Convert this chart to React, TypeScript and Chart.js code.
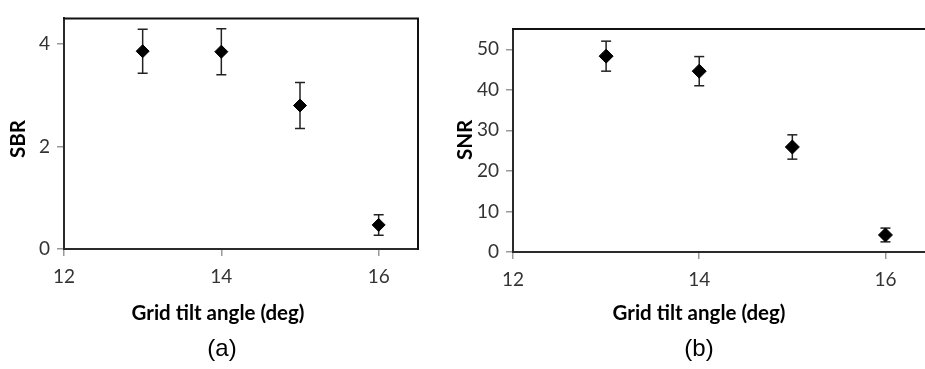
import React, { useEffect, useRef } from "react";
import { Chart, registerables } from "chart.js";

Chart.register(...registerables);

// ---- data ----
const angles = [13, 14, 15, 16];
const sbrValues = [3.86, 3.85, 2.8, 0.47];
const sbrErrors = [0.43, 0.45, 0.45, 0.2];
const snrValues = [48.3, 44.6, 25.9, 4.2];
const snrErrors = [3.7, 3.6, 3.0, 1.7];
const xTickValues = [12, 14, 16];
const sbrTickValues = [0, 2, 4];
const snrTickValues = [0, 10, 20, 30, 40, 50];

type TextItem = {
  text: string;
  x: number;
  y: number;
  font: string;
  color: string;
  rotate?: boolean;
};

function makeTextPlugin(items: TextItem[]) {
  return {
    id: "panelTexts",
    afterDraw(chart: any) {
      const ctx = chart.ctx;
      items.forEach((it) => {
        ctx.save();
        ctx.font = it.font;
        ctx.fillStyle = it.color;
        ctx.textAlign = "center";
        ctx.textBaseline = "middle";
        ctx.translate(it.x, it.y);
        if (it.rotate) ctx.rotate(-Math.PI / 2);
        ctx.fillText(it.text, 0, 0);
        ctx.restore();
      });
    },
  };
}

const framePlugin = {
  id: "topRightFrame",
  beforeDatasetsDraw(chart: any) {
    const { ctx, chartArea } = chart;
    const { left, right, top, bottom } = chartArea;
    ctx.save();
    ctx.strokeStyle = "#111";
    ctx.lineWidth = 2;
    ctx.beginPath();
    ctx.moveTo(left - 1, top);
    ctx.lineTo(right, top);
    ctx.lineTo(right, bottom + 1);
    ctx.stroke();
    ctx.restore();
  },
};

function errorBarPoints(xs: number[], ys: number[], es: number[]) {
  const pts: { x: number; y: number | null }[] = [];
  xs.forEach((x, i) => {
    pts.push({ x, y: ys[i] - es[i] });
    pts.push({ x, y: ys[i] + es[i] });
    pts.push({ x, y: null });
  });
  return pts;
}

type PanelProps = {
  left: number;
  width: number;
  height: number;
  values: number[];
  errors: number[];
  yMax: number;
  yTicks: number[];
  xMax: number;
  padTop: number;
  padRight: number;
  yAxisWidth: number;
  xAxisHeight: number;
  pointRadius: number;
  capRadius: number;
  texts: TextItem[];
};

const tickFont = { family: "Lato", size: 19 };

function Panel(p: PanelProps) {
  const ref = useRef<HTMLCanvasElement | null>(null);

  useEffect(() => {
    if (!ref.current) return;
    const gridOpts = {
      display: true,
      drawOnChartArea: false,
      drawTicks: true,
      tickLength: 7,
      color: "#999",
      lineWidth: 1.5,
    };
    const borderOpts = { display: true, color: "#2a2a2a", width: 2 };
    const chart = new Chart(ref.current, {
      type: "scatter",
      data: {
        datasets: [
          {
            label: "mean",
            data: angles.map((x, i) => ({ x, y: p.values[i] })),
            pointStyle: "rectRot",
            pointRadius: p.pointRadius,
            pointHoverRadius: p.pointRadius,
            backgroundColor: "#000",
            borderColor: "#000",
            borderWidth: 1,
            order: 0,
          } as any,
          {
            label: "error",
            data: errorBarPoints(angles, p.values, p.errors),
            showLine: true,
            spanGaps: false,
            borderColor: "#222",
            borderWidth: 1.5,
            pointStyle: "line",
            pointRadius: p.capRadius,
            pointHoverRadius: p.capRadius,
            pointBorderColor: "#222",
            pointBackgroundColor: "#222",
            pointBorderWidth: 1.5,
            order: 1,
          } as any,
        ],
      },
      options: {
        responsive: false,
        animation: false,
        devicePixelRatio: 1,
        events: [],
        layout: {
          padding: { left: 0, top: p.padTop, right: p.padRight, bottom: 0 },
        },
        plugins: {
          legend: { display: false },
          tooltip: { enabled: false },
          title: { display: false },
        },
        scales: {
          x: {
            type: "linear",
            min: 12,
            max: p.xMax,
            afterFit: (s: any) => {
              s.height = p.xAxisHeight;
            },
            afterBuildTicks: (s: any) => {
              s.ticks = xTickValues.map((v) => ({ value: v }));
            },
            grid: gridOpts,
            border: borderOpts,
            ticks: { font: tickFont, color: "#333", padding: 9, maxRotation: 0 },
          },
          y: {
            type: "linear",
            min: 0,
            max: p.yMax,
            afterFit: (s: any) => {
              s.width = p.yAxisWidth;
            },
            afterBuildTicks: (s: any) => {
              s.ticks = p.yTicks.map((v) => ({ value: v }));
            },
            grid: gridOpts,
            border: borderOpts,
            ticks: { font: tickFont, color: "#333", padding: 7 },
          },
        },
      } as any,
      plugins: [framePlugin, makeTextPlugin(p.texts)],
    });
    return () => chart.destroy();
  }, []);

  return (
    <canvas
      ref={ref}
      width={p.width}
      height={p.height}
      style={{
        position: "absolute",
        left: p.left,
        top: 0,
        width: p.width,
        height: p.height,
        display: "block",
      }}
    />
  );
}

const titleFont = 'bold 20.5px "Lato"';
const labelFont = '24px "Liberation Sans"';

export default function App() {
  return (
    <div
      style={{
        position: "absolute",
        left: 0,
        top: 0,
        width: 925,
        height: 369,
        overflow: "hidden",
        background: "#fff",
      }}
    >
      <Panel
        left={0}
        width={460}
        height={369}
        values={sbrValues}
        errors={sbrErrors}
        yMax={4.5}
        yTicks={sbrTickValues}
        xMax={16.5}
        padTop={9}
        padRight={42}
        yAxisWidth={64}
        xAxisHeight={120}
        pointRadius={6.5}
        capRadius={5}
        texts={[
          { text: "Grid tilt angle (deg)", x: 218, y: 313, font: titleFont, color: "#000" },
          { text: "SBR", x: 18, y: 139, font: titleFont, color: "#000", rotate: true },
          { text: "(a)", x: 222, y: 349, font: labelFont, color: "#000" },
        ]}
      />
      <Panel
        left={440}
        width={500}
        height={369}
        values={snrValues}
        errors={snrErrors}
        yMax={55}
        yTicks={snrTickValues}
        xMax={16.5}
        padTop={29}
        padRight={8}
        yAxisWidth={73}
        xAxisHeight={117}
        pointRadius={7}
        capRadius={5}
        texts={[
          { text: "Grid tilt angle (deg)", x: 259, y: 313, font: titleFont, color: "#000" },
          { text: "SNR", x: 25, y: 140, font: titleFont, color: "#000", rotate: true },
          { text: "(b)", x: 259, y: 349, font: labelFont, color: "#000" },
        ]}
      />
    </div>
  );
}
